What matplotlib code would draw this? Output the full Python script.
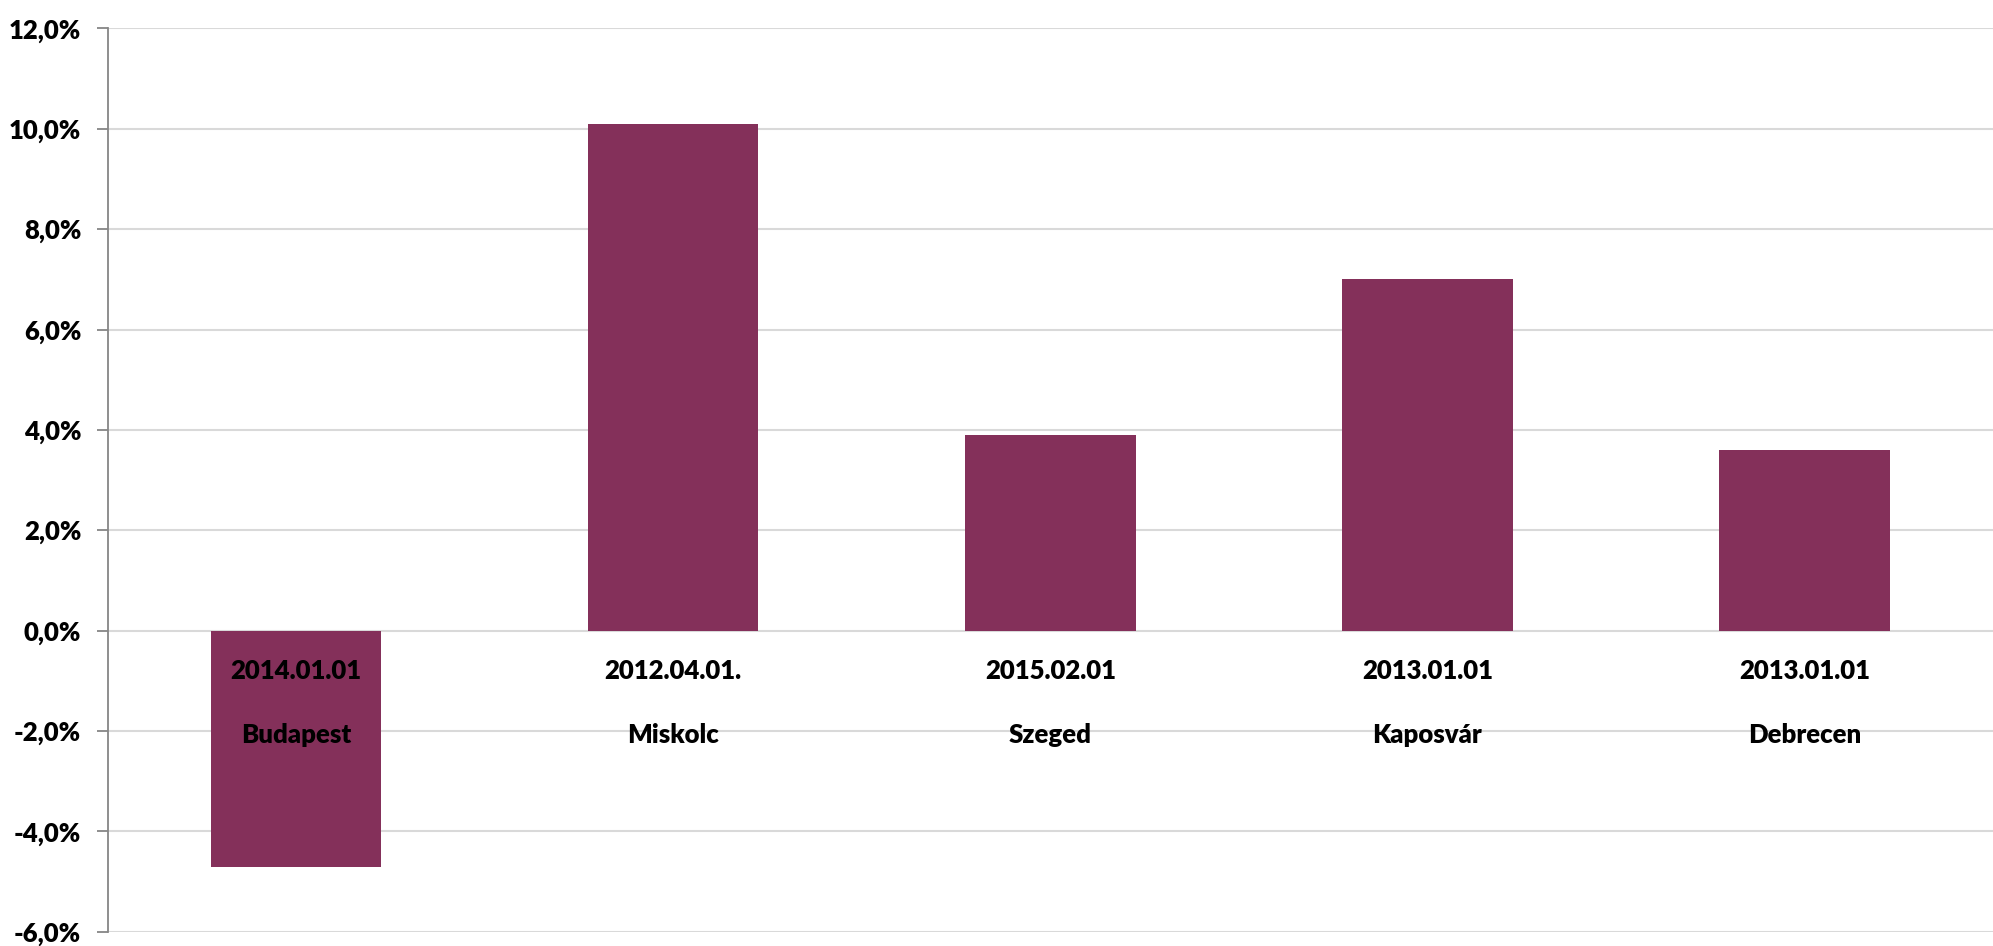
import matplotlib
matplotlib.use("Agg")
import matplotlib.pyplot as plt
from matplotlib.ticker import FuncFormatter, MultipleLocator

cities = ["Budapest", "Miskolc", "Szeged", "Kaposvár", "Debrecen"]
dates = ["2014.01.01", "2012.04.01.", "2015.02.01", "2013.01.01", "2013.01.01"]
values = [-4.7, 10.1, 3.9, 7.0, 3.6]

plt.rcParams['font.family'] = ['Lato', 'DejaVu Sans']
plt.rcParams['font.weight'] = 'bold'

fig = plt.figure(figsize=(19.93, 9.46), dpi=100)
ax = fig.add_axes([0.054, 0.015, 0.946, 0.955])

x = list(range(len(cities)))
ax.bar(x, values, width=0.452, color="#84305A", zorder=3)

ax.set_xlim(-0.5, len(cities) - 0.5)
ax.set_ylim(-6, 12)
ax.yaxis.set_major_locator(MultipleLocator(2))
ax.yaxis.set_major_formatter(FuncFormatter(lambda v, p: f"{v:.1f}%".replace(".", ",")))
ax.grid(axis="y", color="#D9D9D9", linewidth=1.5, zorder=0)
ax.set_xticks([])

for s in ["top", "right", "bottom"]:
    ax.spines[s].set_visible(False)
ax.spines["left"].set_color("#868686")
ax.spines["left"].set_linewidth(1.3)
ax.tick_params(axis="y", direction="out", length=8, width=1.3, color="#868686",
               labelsize=18.5, pad=11, labelcolor="black")
for lbl in ax.get_yticklabels():
    lbl.set_fontweight("heavy")

for xi, d, c in zip(x, dates, cities):
    ax.text(xi, -0.8, d, ha="center", va="center", fontsize=18.5, fontweight="heavy", zorder=4)
    ax.text(xi, -2.07, c, ha="center", va="center", fontsize=18.5, fontweight="heavy", zorder=4)

fig.savefig("out.png", dpi=100, facecolor="white")
